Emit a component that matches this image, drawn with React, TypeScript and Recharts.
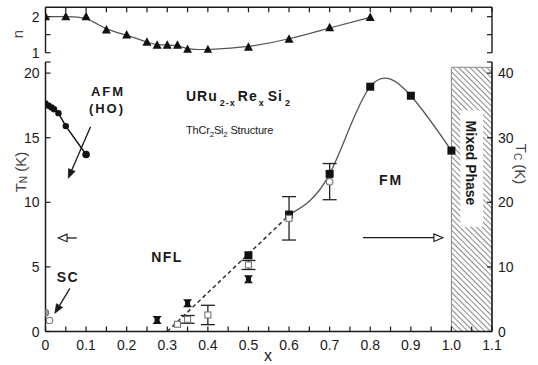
import React from 'react';
import {
  ComposedChart,
  Line,
  Scatter,
  XAxis,
  YAxis,
  ErrorBar,
  ReferenceArea,
  ReferenceLine,
} from 'recharts';

// ---------- data ----------
// top panel: resistivity exponent n vs x
const nX = [0, 0.05, 0.1, 0.15, 0.2, 0.25, 0.275, 0.3, 0.325, 0.35, 0.4, 0.5, 0.6, 0.7, 0.8];
const nVal = [2.0, 2.0, 2.0, 1.63, 1.49, 1.29, 1.21, 1.21, 1.21, 1.09, 1.08, 1.15, 1.37, 1.69, 1.98];

// AFM (HO) transition T_N (K)
const afmX = [0, 0.008, 0.015, 0.021, 0.032, 0.05, 0.1];
const afmTN = [17.65, 17.47, 17.34, 17.2, 16.9, 15.9, 13.7];

// superconducting Tc (K, left axis)
const scX = [0, 0.01];
const scTN = [1.45, 0.85];

// ferromagnetic Tc (K, right axis) on solid curve
const fmX = [0.6, 0.7, 0.8, 0.9, 1.0];
const fmTc = [18.1, 24.4, 37.9, 36.5, 28.0];

// filled square at x = 0.5 (left axis)
const fsX = [0.5];
const fsTN = [5.9];

// dashed line (left axis)
const dashX = [0.3, 0.6];
const dashTN = [0, 9.0];

// open squares with error bars (left axis)
const osX = [0.325, 0.35, 0.4, 0.5, 0.6];
const osTN = [0.56, 0.94, 1.28, 5.15, 8.76];
const osErr = [0, 0.3, 0.75, 0.35, 1.68];

// open circle with error bar (left axis)
const ocX = [0.7];
const ocTN = [11.6];
const ocErr = [1.4];

// filled bow-tie symbols (left axis)
const bwX = [0.275, 0.35, 0.5];
const bwTN = [0.89, 2.18, 4.04];

// ticks
const xTicks = [0, 0.05, 0.1, 0.15, 0.2, 0.25, 0.3, 0.35, 0.4, 0.45, 0.5, 0.55, 0.6, 0.65, 0.7, 0.75, 0.8, 0.85, 0.9, 0.95, 1.0, 1.05, 1.1];
const leftTicks = [0, 5, 10, 15, 20, 20.86];
const rightTicks = [0, 10, 20, 30, 40, 41.72];
const nTicks = [1, 1.5, 2];

const zip = (xs: number[], ys: number[], es?: number[]) =>
  xs.map((x, i) => (es ? { x, y: ys[i], e: es[i] } : { x, y: ys[i] }));

const nData = zip(nX, nVal);
const afmData = zip(afmX, afmTN);
const scData = zip(scX, scTN);
const fmData = zip(fmX, fmTc);
const fsData = zip(fsX, fsTN);
const dashData = zip(dashX, dashTN);
const osData = zip(osX, osTN, osErr);
const ocData = zip(ocX, ocTN, ocErr);
const bwData = zip(bwX, bwTN);

const FONT = '"Liberation Sans", Arial, Helvetica, sans-serif';
const INK = '#1a1a1a';

const fmt = (v: number) => (v === 0 ? '0' : v.toFixed(1));
const isMajor = (v: number) => Math.abs(v * 10 - Math.round(v * 10)) < 1e-6;

// ---------- tick renderers ----------
const BottomTick = (p: any) => {
  const { x, y, payload } = p;
  const v = payload.value;
  return (
    <g>
      <line x1={x} x2={x} y1={y} y2={y - 5} stroke={INK} strokeWidth={1.2} />
      {isMajor(v) && (
        <text x={x} y={y + 18.5} textAnchor="middle" fontSize={14} fill={INK} fontFamily={FONT}>
          {fmt(v)}
        </text>
      )}
    </g>
  );
};

const TopTick = (p: any) => {
  const { x, y } = p;
  return <line x1={x} x2={x} y1={y} y2={y + 5} stroke={INK} strokeWidth={1.2} />;
};

const makeLeftTick = (labels: boolean) => (p: any) => {
  const { x, y, payload } = p;
  const v = payload.value;
  const show = labels && Number.isInteger(v);
  return (
    <g>
      <line x1={x} x2={x + 5} y1={y} y2={y} stroke={INK} strokeWidth={1.2} />
      {show && (
        <text x={x - 6} y={y + 5} textAnchor="end" fontSize={14} fill={INK} fontFamily={FONT}>
          {v}
        </text>
      )}
    </g>
  );
};

const makeRightTick = (labels: boolean) => (p: any) => {
  const { x, y, payload } = p;
  const v = payload.value;
  const show = labels && Number.isInteger(v);
  return (
    <g>
      <line x1={x} x2={x - 5} y1={y} y2={y} stroke={INK} strokeWidth={1.2} />
      {show && (
        <text x={x + 6} y={y + 5} textAnchor="start" fontSize={14} fill={INK} fontFamily={FONT}>
          {v}
        </text>
      )}
    </g>
  );
};

const LeftTickL = makeLeftTick(true);
const RightTickL = makeRightTick(true);
const LeftTickN = makeLeftTick(true);
const RightTickN = makeRightTick(false);

// ---------- symbol shapes ----------
const Tri = (p: any) => {
  const { cx, cy, index } = p;
  if (cx == null || cy == null) return <g key={index} />;
  return (
    <polygon
      key={index}
      points={`${cx},${cy - 5} ${cx + 4.5},${cy + 3.5} ${cx - 4.5},${cy + 3.5}`}
      fill="#111"
    />
  );
};

const Dot = (p: any) => {
  const { cx, cy, index } = p;
  if (cx == null || cy == null) return <g key={index} />;
  return <circle key={index} cx={cx} cy={cy} r={index === 6 ? 3.8 : 3.2} fill="#111" />;
};

const Sq = (p: any) => {
  const { cx, cy, index } = p;
  if (cx == null || cy == null) return <g key={index} />;
  return <rect key={index} x={cx - 4} y={cy - 4} width={8} height={8} fill="#111" />;
};

const SqScatter = (p: any) => {
  const { cx, cy } = p;
  return <rect x={cx - 4} y={cy - 4} width={8} height={8} fill="#111" />;
};

const OpenSq = (p: any) => {
  const { cx, cy } = p;
  return <rect x={cx - 3} y={cy - 3} width={6} height={6} fill="#fff" stroke="#777" strokeWidth={1.1} />;
};

const OpenCirc = (p: any) => {
  const { cx, cy } = p;
  return <circle cx={cx} cy={cy} r={3.3} fill="#fff" stroke="#777" strokeWidth={1.1} />;
};

const ScCirc = (p: any) => {
  const { cx, cy, index } = p;
  return (
    <circle
      cx={cx}
      cy={cy}
      r={3.2}
      fill={index === 0 ? '#999' : '#fff'}
      stroke="#777"
      strokeWidth={1.1}
    />
  );
};

const Bow = (p: any) => {
  const { cx, cy } = p;
  return (
    <g>
      <polygon
        points={`${cx - 4.5},${cy - 4} ${cx + 4.5},${cy - 4} ${cx + 1.3},${cy} ${cx + 4.5},${cy + 4} ${cx - 4.5},${cy + 4} ${cx - 1.3},${cy}`}
        fill="#111"
      />
      <rect x={cx - 2.5} y={cy - 2} width={5} height={4} fill="#111" />
    </g>
  );
};

// ---------- arrow shapes ----------
const makeArrow = (open: boolean) => (p: any) => {
  const { x1, y1, x2, y2 } = p;
  if ([x1, y1, x2, y2].some((v) => v == null || Number.isNaN(v))) return <g />;
  const ang = Math.atan2(y2 - y1, x2 - x1);
  const L = 9;
  const H = open ? 3.8 : 3.5;
  const bx = x2 - L * Math.cos(ang);
  const by = y2 - L * Math.sin(ang);
  const px = -Math.sin(ang) * H;
  const py = Math.cos(ang) * H;
  const pts = `${x2},${y2} ${bx + px},${by + py} ${bx - px},${by - py}`;
  return (
    <g>
      <line x1={x1} y1={y1} x2={bx} y2={by} stroke={INK} strokeWidth={1.3} />
      <polygon
        points={pts}
        fill={open ? '#fff' : INK}
        stroke={INK}
        strokeWidth={open ? 1.1 : 0.8}
        strokeLinejoin="miter"
      />
    </g>
  );
};
const ArrowFilled = makeArrow(false);
const ArrowOpen = makeArrow(true);

export default function App() {
  return (
    <div
      style={{
        position: 'fixed',
        left: 0,
        top: 0,
        width: 538,
        height: 365,
        background: '#fff',
        fontFamily: FONT,
        overflow: 'hidden',
      }}
    >
      <svg width={0} height={0} style={{ position: 'absolute' }}>
        <defs>
          <pattern
            id="hatch"
            patternUnits="userSpaceOnUse"
            width={4}
            height={4}
            patternTransform="rotate(-45)"
          >
            <rect x={0} y={0} width={4} height={4} fill="#fff" />
            <line x1={0.5} y1={0} x2={0.5} y2={4} stroke="#888" strokeWidth={1} />
          </pattern>
        </defs>
      </svg>

      {/* top panel: n */}
      <div style={{ position: 'absolute', left: 0, top: 0 }}>
        <ComposedChart width={538} height={60} margin={{ top: 0, right: 0, bottom: 7.3, left: 0 }}>
          <XAxis
            xAxisId="t"
            type="number"
            dataKey="x"
            orientation="top"
            domain={[0, 1.1]}
            ticks={xTicks}
            interval={0}
            height={7.3}
            tickSize={0}
            tickMargin={0}
            tick={<TopTick />}
            tickLine={false}
            axisLine={{ stroke: INK, strokeWidth: 1.4 }}
            allowDataOverflow
          />
          <YAxis
            yAxisId="nl"
            orientation="left"
            type="number"
            domain={[1, 2.26]}
            ticks={nTicks}
            interval={0}
            width={45.5}
            tickSize={0}
            tickMargin={0}
            tick={<LeftTickN />}
            tickLine={false}
            axisLine={{ stroke: INK, strokeWidth: 1.4 }}
            allowDataOverflow
          />
          <YAxis
            yAxisId="nr"
            orientation="right"
            type="number"
            domain={[1, 2.26]}
            ticks={nTicks}
            interval={0}
            width={46}
            tickSize={0}
            tickMargin={0}
            tick={<RightTickN />}
            tickLine={false}
            axisLine={{ stroke: INK, strokeWidth: 1.4 }}
            allowDataOverflow
          />
          <Line
            xAxisId="t"
            yAxisId="nl"
            data={nData}
            dataKey="y"
            type="basis"
            stroke="#555"
            strokeWidth={1.2}
            dot={Tri}
            isAnimationActive={false}
          />
        </ComposedChart>
      </div>

      {/* main panel */}
      <div style={{ position: 'absolute', left: 0, top: 0 }}>
        <ComposedChart width={538} height={365} margin={{ top: 62, right: 0, bottom: 0, left: 0 }}>
          <XAxis
            type="number"
            dataKey="x"
            domain={[0, 1.1]}
            ticks={xTicks}
            interval={0}
            height={33.5}
            tickSize={0}
            tickMargin={0}
            tick={<BottomTick />}
            tickLine={false}
            axisLine={{ stroke: INK, strokeWidth: 1.5 }}
            allowDataOverflow
          />
          <YAxis
            yAxisId="L"
            orientation="left"
            type="number"
            domain={[0, 20.86]}
            ticks={leftTicks}
            interval={0}
            width={45.5}
            tickSize={0}
            tickMargin={0}
            tick={<LeftTickL />}
            tickLine={false}
            axisLine={{ stroke: INK, strokeWidth: 1.5 }}
            allowDataOverflow
          />
          <YAxis
            yAxisId="R"
            orientation="right"
            type="number"
            domain={[0, 41.72]}
            ticks={rightTicks}
            interval={0}
            width={46}
            tickSize={0}
            tickMargin={0}
            tick={<RightTickL />}
            tickLine={false}
            axisLine={{ stroke: INK, strokeWidth: 1.5 }}
            allowDataOverflow
          />

          {/* mixed phase hatched region */}
          <ReferenceArea
            yAxisId="L"
            x1={1.0}
            x2={1.1}
            y1={0}
            y2={20.45}
            fill="url(#hatch)"
            fillOpacity={1}
            stroke="#888"
            strokeWidth={1}
            ifOverflow="visible"
          />
          <ReferenceArea
            yAxisId="L"
            x1={1.022}
            x2={1.078}
            y1={8.1}
            y2={17.1}
            fill="#fff"
            fillOpacity={1}
            stroke="none"
            ifOverflow="visible"
          />

          {/* arrows */}
          <ReferenceLine
            yAxisId="L"
            segment={[{ x: 0.111, y: 15.85 }, { x: 0.056, y: 11.86 }]}
            shape={ArrowFilled}
            ifOverflow="visible"
          />
          <ReferenceLine
            yAxisId="L"
            segment={[{ x: 0.06, y: 3.34 }, { x: 0.023, y: 1.41 }]}
            shape={ArrowFilled}
            ifOverflow="visible"
          />
          <ReferenceLine
            yAxisId="L"
            segment={[{ x: 0.077, y: 7.24 }, { x: 0.031, y: 7.24 }]}
            shape={ArrowOpen}
            ifOverflow="visible"
          />
          <ReferenceLine
            yAxisId="L"
            segment={[{ x: 0.782, y: 7.26 }, { x: 0.979, y: 7.26 }]}
            shape={ArrowOpen}
            ifOverflow="visible"
          />

          <Line
            yAxisId="L"
            data={dashData}
            dataKey="y"
            type="linear"
            stroke="#333"
            strokeWidth={1.5}
            strokeDasharray="4 3"
            dot={false}
            isAnimationActive={false}
          />
          <Line
            yAxisId="R"
            data={fmData}
            dataKey="y"
            type="natural"
            stroke="#555"
            strokeWidth={1.3}
            dot={Sq}
            isAnimationActive={false}
          />
          <Line
            yAxisId="L"
            data={afmData}
            dataKey="y"
            type="linear"
            stroke="#111"
            strokeWidth={1.4}
            dot={Dot}
            isAnimationActive={false}
          />
          <Scatter yAxisId="L" data={osData} dataKey="y" shape={OpenSq} isAnimationActive={false}>
            <ErrorBar dataKey="e" direction="y" width={7} stroke="#222" strokeWidth={1.3} />
          </Scatter>
          <Scatter yAxisId="L" data={ocData} dataKey="y" shape={OpenCirc} isAnimationActive={false}>
            <ErrorBar dataKey="e" direction="y" width={7} stroke="#222" strokeWidth={1.3} />
          </Scatter>
          <Scatter yAxisId="L" data={fsData} dataKey="y" shape={SqScatter} isAnimationActive={false} />
          <Scatter yAxisId="L" data={bwData} dataKey="y" shape={Bow} isAnimationActive={false} />
          <Scatter yAxisId="L" data={scData} dataKey="y" shape={ScCirc} isAnimationActive={false} />
        </ComposedChart>
      </div>

      {/* text overlay */}
      <svg
        width={538}
        height={365}
        style={{ position: 'absolute', left: 0, top: 0, pointerEvents: 'none' }}
        fontFamily={FONT}
      >
        <text x={17} y={34} fontSize={15} fill="#444" textAnchor="middle" dominantBaseline="central" transform="rotate(-90 17 34)">
          n
        </text>
        <text x={20} y={172} fontSize={15} fill="#444" textAnchor="middle" dominantBaseline="central" transform="rotate(-90 20 172)">
          T<tspan fontSize={10} dy={3}>N</tspan>
          <tspan dy={-3}> (K)</tspan>
        </text>
        <text x={521} y={164} fontSize={15} fill="#444" textAnchor="middle" dominantBaseline="central" transform="rotate(90 521 164)">
          T<tspan fontSize={10} dy={3}>C</tspan>
          <tspan dy={-3}> (K)</tspan>
        </text>
        <text x={268} y={361} fontSize={16} fill={INK} textAnchor="middle">
          x
        </text>

        <text x={108} y={96} fontSize={13} fontWeight="bold" fill={INK} textAnchor="middle" letterSpacing={2}>
          AFM
        </text>
        <text x={107} y={113} fontSize={13} fontWeight="bold" fill={INK} textAnchor="middle" letterSpacing={2}>
          (HO)
        </text>
        <text x={68} y={282} fontSize={14} fontWeight="bold" fill={INK} textAnchor="middle" letterSpacing={1.5}>
          SC
        </text>
        <text x={167} y={262} fontSize={14} fontWeight="bold" fill={INK} textAnchor="middle" letterSpacing={1.5}>
          NFL
        </text>
        <text x={391} y={185} fontSize={14} fontWeight="bold" fill={INK} textAnchor="middle" letterSpacing={2}>
          FM
        </text>

        <text x={186} y={101} fontSize={14} fontWeight="bold" fill={INK} letterSpacing={1}>
          URu
          <tspan fontSize={9} dy={5} dx={2}>2-x</tspan>
          <tspan dy={-5} dx={2}>Re</tspan>
          <tspan fontSize={9} dy={5} dx={1}>x</tspan>
          <tspan dy={-5} dx={3}>Si</tspan>
          <tspan fontSize={9} dy={5} dx={2}>2</tspan>
        </text>
        <text x={186} y={134} fontSize={11} fill={INK} letterSpacing={-0.2}>
          ThCr
          <tspan fontSize={8} dy={3}>2</tspan>
          <tspan dy={-3}>Si</tspan>
          <tspan fontSize={8} dy={3}>2</tspan>
          <tspan dy={-3}> Structure</tspan>
        </text>

        <text x={471} y={163} fontSize={14} fontWeight="bold" fill={INK} textAnchor="middle" dominantBaseline="central" transform="rotate(90 471 163)">
          Mixed Phase
        </text>
      </svg>
    </div>
  );
}
